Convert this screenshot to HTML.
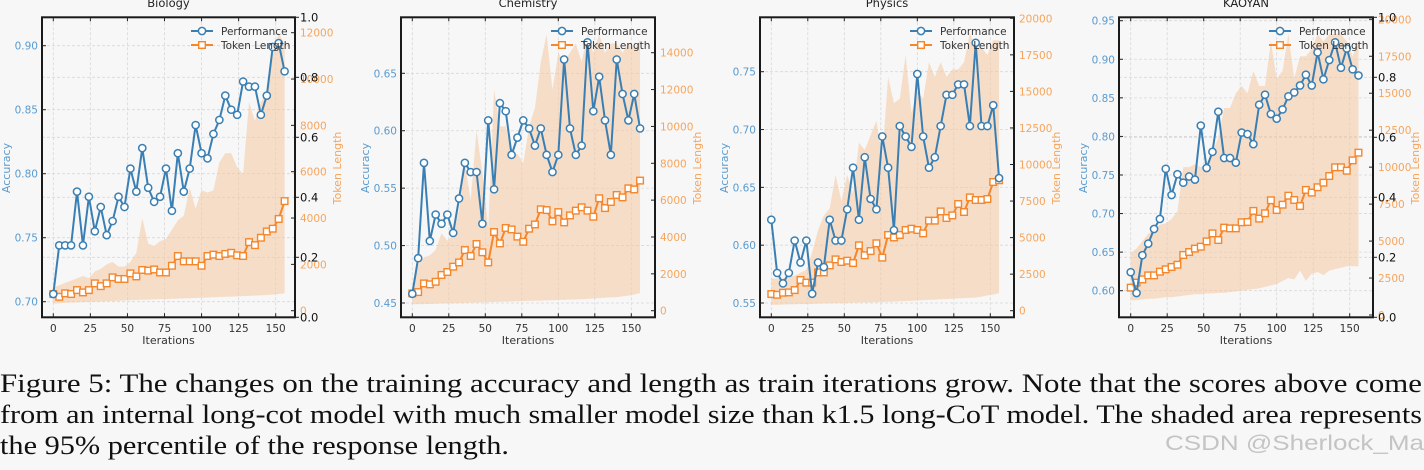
<!DOCTYPE html>
<html><head><meta charset="utf-8">
<style>
html,body{margin:0;padding:0;background:#f7f7f7;}
svg{display:block;font-family:"DejaVu Sans","Liberation Sans",sans-serif;}
</style></head>
<body>
<svg id="fig" width="1424" height="470" viewBox="0 0 1424 470" xmlns="http://www.w3.org/2000/svg">
<rect width="1424" height="470" fill="#f7f7f7"/>
<g id="panels"></g>
<g font-family="'Liberation Serif',serif" font-size="26" fill="#111">
<text x="0" y="392" textLength="1422" lengthAdjust="spacingAndGlyphs">Figure 5: The changes on the training accuracy and length as train iterations grow. Note that the scores above come</text>
<text x="0" y="423" textLength="1422" lengthAdjust="spacingAndGlyphs">from an internal long-cot model with much smaller model size than k1.5 long-CoT model. The shaded area represents</text>
<text x="0" y="454" textLength="509" lengthAdjust="spacingAndGlyphs">the 95% percentile of the response length.</text>
</g>
<text x="1165" y="450" font-family="'Liberation Sans',sans-serif" font-size="21" fill="#c4c4c4" textLength="259" lengthAdjust="spacingAndGlyphs">CSDN @Sherlock_Ma</text>
</svg>
<script>
const iterations = Array.from({length:40},(_,i)=>i*4);

const bioPerf = [.706,.744,.744,.744,.786,.744,.782,.755,.774,.752,.763,.782,.774,.804,.786,.820,.789,.778,.782,.804,.771,.816,.786,.804,.838,.816,.812,.831,.842,.861,.850,.846,.872,.868,.868,.846,.861,.899,.902,.880];
const bioTok = [720,600,750,720,890,790,890,1180,1060,1180,1440,1370,1370,1610,1480,1760,1730,1780,1650,1650,1940,2360,2130,2130,2130,1940,2360,2420,2360,2450,2500,2390,2360,2960,2830,3150,3420,3540,3960,4730];
const bioUpper = [1000,1100,1200,1300,1400,1500,1400,1700,1800,2000,2100,1900,1900,2100,2500,4000,2900,2800,3000,3100,3500,3900,4100,5300,4400,5200,5100,5200,6400,6800,6800,6200,5900,9000,8200,9000,9400,11000,12000,11500];
const bioLower = [300,320,340,350,360,370,380,390,400,410,420,430,440,450,460,470,480,490,500,500,510,520,530,540,550,560,570,580,590,600,610,620,630,640,650,660,680,700,720,750];

const chemPerf = [.458,.489,.572,.504,.527,.519,.527,.511,.541,.572,.564,.564,.519,.609,.549,.624,.617,.579,.594,.609,.602,.587,.602,.579,.564,.579,.662,.602,.579,.587,.677,.617,.647,.609,.579,.662,.632,.609,.632,.602];
const chemTok = [940,1010,1480,1430,1570,1940,2100,2390,2620,3290,2970,3620,3170,2620,4270,3650,4490,4410,4020,3740,4450,4680,5500,5460,4850,5350,4790,5170,5430,5610,5430,5100,6100,5570,5900,6280,6150,6640,6580,7060];
const chemUpper = [1000,2500,2900,3000,3300,4200,3800,4100,5500,8000,6000,9800,7500,4500,12000,10000,10000,8500,8500,8000,10000,11000,13500,15000,12000,14000,13500,14000,14500,13500,15000,14000,15000,14000,14500,14500,14000,14500,14200,14700];
const chemLower = [350,350,360,370,380,390,400,400,410,420,430,440,450,460,470,480,490,500,510,520,530,540,550,560,570,580,590,600,610,620,640,660,680,700,720,740,780,820,880,950];

const physPerf = [.622,.576,.567,.576,.604,.585,.604,.558,.585,.581,.622,.604,.604,.631,.667,.622,.676,.640,.631,.694,.667,.613,.703,.694,.685,.748,.694,.667,.676,.703,.730,.730,.739,.739,.703,.775,.703,.703,.721,.658];
const physTok = [1140,1090,1230,1250,1410,2100,1920,1920,2620,2620,3100,3510,3330,3420,3260,4470,3790,4080,4610,3630,5180,5010,5180,5520,5610,5520,5290,6160,6160,6790,6340,6520,7300,6750,7750,7570,7570,7640,8800,8920];
const physUpper = [2200,2200,2200,2300,2400,2600,2800,4000,5500,6500,7000,9300,7500,9300,8000,11500,11000,12000,13000,10500,16000,14200,14500,17500,13500,15000,14500,17000,16000,17000,16000,16500,16500,17000,19000,18000,18000,17500,18500,18500];
const physLower = [400,400,420,430,440,450,460,470,480,490,500,510,520,530,540,550,560,570,580,590,600,620,640,660,680,700,720,740,760,780,800,820,840,860,880,900,950,1050,1100,1200];

const kaoPerf = [.624,.597,.646,.661,.680,.693,.758,.724,.751,.740,.748,.744,.814,.759,.780,.832,.772,.772,.766,.805,.803,.790,.841,.854,.829,.823,.835,.852,.857,.866,.880,.866,.909,.874,.899,.922,.889,.914,.887,.879];
const kaoTok = [1850,2190,2410,2680,2680,2930,3090,3250,3400,4060,4260,4490,4620,4980,5520,5070,5910,5860,5860,6270,6290,7040,6520,6880,7760,7100,7460,8070,7780,7370,8460,8280,8640,8950,9400,9990,9990,9760,10460,10980];
const kaoUpper = [4200,4500,5000,5500,5800,6100,6200,6500,7000,10000,10000,10200,10000,10200,11000,12000,14000,14000,15000,15500,15000,16500,15500,15500,18500,16000,16500,19000,16000,17500,17500,18000,19000,18500,19000,19000,19000,18500,17500,18500];
const kaoLower = [1000,1000,1050,1100,1100,1150,1200,1200,1250,1300,1350,1400,1400,1450,1450,1500,1500,1550,1600,1650,1700,1750,1800,1900,2000,2100,2300,2500,2400,3000,2300,2800,2900,2700,3000,3100,3200,3300,3300,3300];

const bioLeftTicks = [0.70,0.75,0.80,0.85,0.90];
const bioRightTicks = [0,2000,4000,6000,8000,10000,12000];
const chemLeftTicks = [0.45,0.50,0.55,0.60,0.65];
const chemRightTicks = [0,2000,4000,6000,8000,10000,12000,14000];
const physLeftTicks = [0.55,0.60,0.65,0.70,0.75];
const physRightTicks = [0,2500,5000,7500,10000,12500,15000,17500,20000];
const kaoLeftTicks = [0.60,0.65,0.70,0.75,0.80,0.85,0.90,0.95];
const kaoRightTicks = [0,2500,5000,7500,10000,12500,15000,17500,20000];
const thirdTicks = [0.0,0.2,0.4,0.6,0.8,1.0];
const xTicks = [0,25,50,75,100,125,150];

const panels = [
 {name:'biology',title:'Biology',x0:42,x1:295,xa:[53.3,275.7],la:[0.70,301.7,0.90,45.7],ra:[0,310.7,12000,32.7],perf:bioPerf,tok:bioTok,up:bioUpper,lo:bioLower,lt:bioLeftTicks,rt:bioRightTicks,third:true},
 {name:'chemistry',title:'Chemistry',x0:401,x1:655,xa:[412.3,631.3],la:[0.45,303,0.65,73.3],ra:[0,310.7,14000,52.7],perf:chemPerf,tok:chemTok,up:chemUpper,lo:chemLower,lt:chemLeftTicks,rt:chemRightTicks,third:false},
 {name:'physics',title:'Physics',x0:760,x1:1014,xa:[771.3,990.3],la:[0.55,303,0.75,71.7],ra:[0,310.7,20000,18.3],perf:physPerf,tok:physTok,up:physUpper,lo:physLower,lt:physLeftTicks,rt:physRightTicks,third:false},
 {name:'kaoyan',title:'KAOYAN',x0:1119,x1:1373,xa:[1130.7,1349.7],la:[0.60,290.7,0.95,20.7],ra:[0,315,20000,19.3],perf:kaoPerf,tok:kaoTok,up:kaoUpper,lo:kaoLower,lt:kaoLeftTicks,rt:kaoRightTicks,third:true}
];
const Y0=17.3, Y1=317.3;
const NS='http://www.w3.org/2000/svg';
const BLUE='#3a7fb3', ORANGE='#f5862a', LBLUE='#5a9bd0', LORANGE='#f7a55c';
function mk(tag,attrs,parent){const e=document.createElementNS(NS,tag);for(const k in attrs)e.setAttribute(k,attrs[k]);if(parent)parent.appendChild(e);return e;}
const root=document.getElementById('panels');
panels.forEach(p=>{
 const g=mk('g',{},root);
 
 
 const sx=v=>p.xa[0]+(v)*(p.xa[1]-p.xa[0])/150;
 const sl=v=>p.la[1]+(v-p.la[0])*(p.la[3]-p.la[1])/(p.la[2]-p.la[0]);
 const sr=v=>p.ra[1]+(v-p.ra[0])*(p.ra[3]-p.ra[1])/(p.ra[2]-p.ra[0]);
 const st=v=>Y1+(Y0-Y1)*v;
 mk('rect',{x:p.x0,y:Y0,width:p.x1-p.x0,height:Y1-Y0,fill:'#f7f7f7'},g);
 const grid=mk('g',{stroke:'#d8d8d8','stroke-width':0.8,'stroke-dasharray':'3,2'},g);
 
 
 xTicks.forEach(t=>mk('line',{x1:sx(t),x2:sx(t),y1:Y0,y2:Y1},grid));
 p.lt.forEach(t=>mk('line',{x1:p.x0,x2:p.x1,y1:sl(t),y2:sl(t)},grid));
 if(p.third) thirdTicks.forEach(t=>mk('line',{x1:p.x0,x2:p.x1,y1:st(t),y2:st(t)},grid));
 let d='M'+iterations.map((it,i)=>sx(it)+','+sr(p.up[i])).join('L');
 for(let i=iterations.length-1;i>=0;i--) d+='L'+sx(iterations[i])+','+sr(p.lo[i]);
 const band=mk('path',{d:d+'Z',fill:'#f5c9a2','fill-opacity':0.55},g);
 
 
 const tl=mk('polyline',{points:iterations.map((it,i)=>sx(it)+','+sr(p.tok[i])).join(' '),fill:'none',stroke:ORANGE,'stroke-width':2},g);
 
 
 iterations.forEach((it,i)=>{const r=mk('rect',{x:sx(it)-3.3,y:sr(p.tok[i])-3.3,width:6.6,height:6.6,fill:'#fff',stroke:ORANGE,'stroke-width':1.4},g);
  
  });
 const pl=mk('polyline',{points:iterations.map((it,i)=>sx(it)+','+sl(p.perf[i])).join(' '),fill:'none',stroke:BLUE,'stroke-width':2},g);
 
 
 iterations.forEach((it,i)=>{const c=mk('circle',{cx:sx(it),cy:sl(p.perf[i]),r:3.6,fill:'#fff',stroke:BLUE,'stroke-width':1.5},g);
  
  });
 mk('rect',{x:p.x0,y:Y0,width:p.x1-p.x0,height:Y1-Y0,fill:'none',stroke:'#1a1a1a','stroke-width':2},g);
 const tk=mk('g',{stroke:'#222','stroke-width':1},g);
 xTicks.forEach(t=>{mk('line',{x1:sx(t),x2:sx(t),y1:Y1,y2:Y1-4},tk);mk('line',{x1:sx(t),x2:sx(t),y1:Y0,y2:Y0+4},tk);});
 p.lt.forEach(t=>mk('line',{x1:p.x0,x2:p.x0+4,y1:sl(t),y2:sl(t)},tk));
 p.rt.forEach(t=>mk('line',{x1:p.x1,x2:p.x1-4,y1:sr(t),y2:sr(t)},tk));
 const txt=(x,y,s,attrs,name)=>{const e=mk('text',Object.assign({x:x,y:y,'font-size':10.5},attrs),g);e.textContent=s;
  
  return e;};
 xTicks.forEach(t=>txt(sx(t),332,String(t),{'text-anchor':'middle',fill:'#333'},'x-tick-label'));
 p.lt.forEach(t=>txt(p.x0-4,sl(t)+4,t.toFixed(2),{'text-anchor':'end',fill:LBLUE},'y-left-tick-label'));
 p.rt.forEach(t=>txt(p.x1+5,sr(t)+4,String(t),{'text-anchor':'start',fill:LORANGE},'y-right-tick-label'));
 if(p.third){
  thirdTicks.forEach(t=>{mk('line',{x1:p.x1,x2:p.x1+4,y1:st(t),y2:st(t)},tk);
   txt(p.x1+5,st(t)+4,t.toFixed(1),{'text-anchor':'start',fill:'#111','font-size':11.5},'y-third-tick-label');});
 }
 const cx=(p.x0+p.x1)/2;
 txt(cx,7,p.title,{'text-anchor':'middle',fill:'#222','font-size':11.5},'panel-title');
 txt(cx,344,'Iterations',{'text-anchor':'middle',fill:'#333','font-size':11},'x-axis-title');
 txt(0,0,'Accuracy',{'text-anchor':'middle',fill:LBLUE,'font-size':11,transform:'translate('+(p.x0-32)+',168) rotate(-90)'},'y-axis-title-accuracy');
 const rx = p.x1+46;
 txt(0,0,'Token Length',{'text-anchor':'middle',fill:LORANGE,'font-size':11,transform:'translate('+rx+',168) rotate(-90)'},'y-axis-title-token-length');
 const lx=p.x1-104;
 const leg=mk('g',{},g);
 
 
 mk('line',{x1:lx,x2:lx+22,y1:31,y2:31,stroke:BLUE,'stroke-width':2},leg);
 mk('circle',{cx:lx+11,cy:31,r:3.6,fill:'#fff',stroke:BLUE,'stroke-width':1.5},leg);
 mk('line',{x1:lx,x2:lx+22,y1:45,y2:45,stroke:ORANGE,'stroke-width':2},leg);
 mk('rect',{x:lx+7.7,y:41.7,width:6.6,height:6.6,fill:'#fff',stroke:ORANGE,'stroke-width':1.4},leg);
 txt(lx+30,35,'Performance',{fill:'#333','font-size':10.5},'legend-entry-performance');
 txt(lx+30,49,'Token Length',{fill:'#333','font-size':10.5},'legend-entry-token-length');
});
</script>
</body></html>
